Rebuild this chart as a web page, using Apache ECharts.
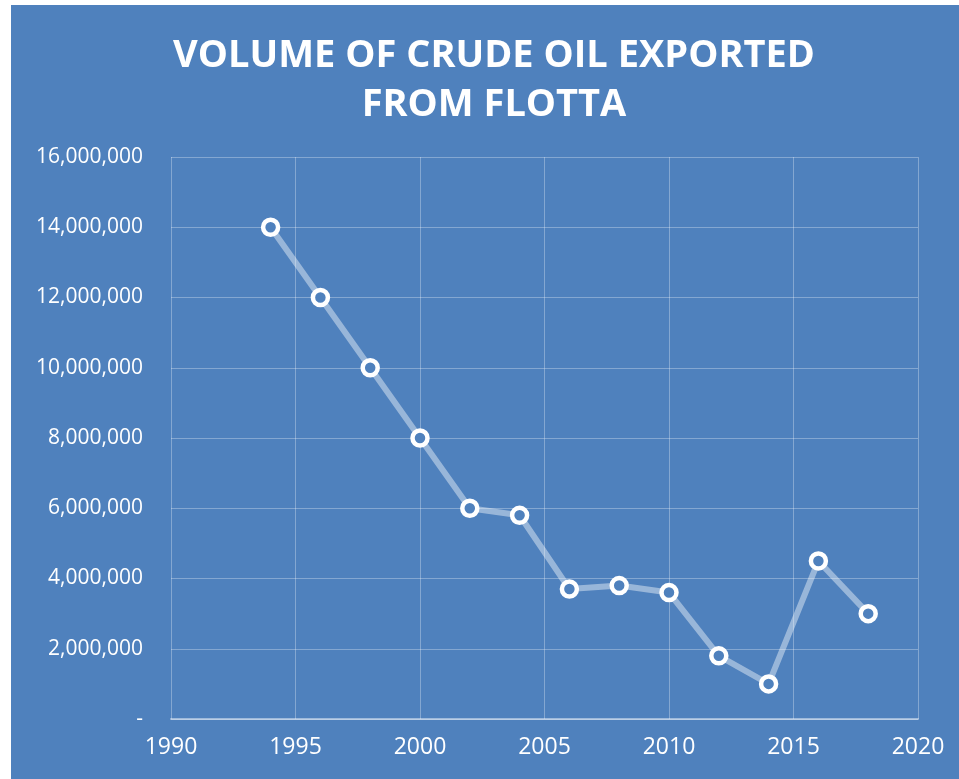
<!DOCTYPE html>
<html>
<head>
    <meta charset="utf-8">
    <title>Flotta crude oil</title>
    <style>
        html, body { margin: 0; padding: 0; background: #ffffff; }
    </style>
</head>
<body>
<div id="main" style="width:959px;height:779px;"></div>
</body>
<script src="https://cdn.jsdelivr.net/npm/echarts@6/dist/echarts.min.js" type="text/javascript"></script>
<script type="text/javascript">

var years = [1994, 1996, 1998, 2000, 2002, 2004, 2006, 2008, 2010, 2012, 2014, 2016, 2018];
var volumes = [14000000, 12000000, 10000000, 8000000, 6000000, 5800000, 3700000, 3800000, 3600000, 1800000, 1000000, 4500000, 3000000];
var titleText = 'VOLUME OF CRUDE OIL EXPORTED\nFROM FLOTTA';

var blue = '#4F81BD';
var main = document.getElementById('main');
var myChart = echarts.init(main);

var points = [];
for (var i = 0; i < years.length; i++) {
    points.push([years[i], volumes[i]]);
}

function fmt(v) {
    if (v === 0) return '-';
    return v.toString().replace(/\B(?=(\d{3})+(?!\d))/g, ',');
}

var option = {
    backgroundColor: '#ffffff',
    textStyle: { fontFamily: 'Open Sans' },
    graphic: [{
        type: 'rect',
        z: -10,
        shape: { x: 11, y: 5, width: 948, height: 774 },
        style: { fill: blue }
    }],
    title: {
        text: titleText,
        left: 489,
        top: 27,
        textAlign: 'center',
        textStyle: {
            color: '#ffffff',
            fontFamily: 'Open Sans',
            fontWeight: 'bold',
            fontSize: 38,
            lineHeight: 49,
            letterSpacing: 3
        }
    },
    grid: {
        left: 171,
        right: 41,
        top: 157,
        bottom: 60,
        containLabel: false
    },
    xAxis: {
        type: 'value',
        min: 1990,
        max: 2020,
        interval: 5,
        axisLine: { show: true, lineStyle: { color: 'rgba(255,255,255,0.45)', width: 2 } },
        axisTick: { show: false },
        splitLine: { show: true, lineStyle: { color: 'rgba(255,255,255,0.3)', width: 1 } },
        axisLabel: {
            color: '#ffffff',
            fontSize: 23,
            margin: 17,
            formatter: function (v) { return String(v); }
        }
    },
    yAxis: {
        type: 'value',
        min: 0,
        max: 16000000,
        interval: 2000000,
        axisLine: { show: false },
        axisTick: { show: false },
        splitLine: { show: true, lineStyle: { color: 'rgba(255,255,255,0.3)', width: 1 } },
        axisLabel: {
            color: '#ffffff',
            fontSize: 21,
            margin: 28,
            formatter: fmt
        }
    },
    series: [{
        type: 'line',
        data: points,
        symbol: 'circle',
        symbolSize: 15,
        lineStyle: { color: 'rgba(255,255,255,0.42)', width: 6 },
        itemStyle: { color: blue, borderColor: '#ffffff', borderWidth: 4.5 },
        z: 3
    }]
};

myChart.setOption(option);
</script>
</html>
